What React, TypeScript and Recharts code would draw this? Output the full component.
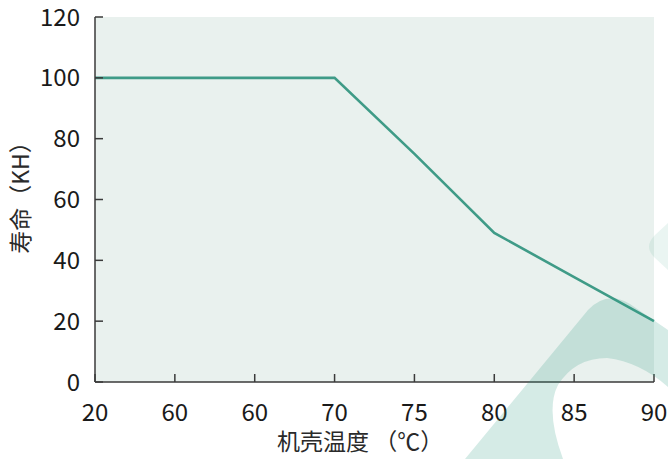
import React from 'react';
import { LineChart, Line, XAxis, YAxis, CartesianGrid, Label } from 'recharts';

const temperatures: string[] = ['20', '60', '60', '70', '75', '80', '85', '90'];
const lifeKH: number[] = [100, 100, 100, 100, 75, 49, 34.5, 20];
const yTicks: number[] = [0, 20, 40, 60, 80, 100, 120];
const xTitle = '机壳温度 （℃）';
const yTitle = '寿命（KH）';

const data = temperatures.map((t, i) => ({ temp: t, life: lifeKH[i] }));

const FONT = '"Noto Sans CJK SC", "Noto Sans", sans-serif';

export default function App() {
  return (
    <div style={{ position: 'absolute', left: 0, top: 0, width: 668, height: 459, background: '#fff', fontFamily: FONT }}>
      <LineChart width={668} height={459} data={data} margin={{ top: 17, right: 14, bottom: 0, left: 0 }}>
        <CartesianGrid fill="#e9f1ee" stroke="none" horizontal={false} vertical={false} />
        <XAxis
          dataKey="temp"
          allowDuplicatedCategory={true}
          height={77}
          tickSize={-8}
          tickMargin={30}
          axisLine={{ stroke: '#3a3a3a', strokeWidth: 1.5 }}
          tickLine={{ stroke: '#3a3a3a', strokeWidth: 1.5 }}
          tick={{ fill: '#1a1a1a', fontSize: 24, fontFamily: FONT }}
          interval={0}
        >
          <Label
            content={() => (
              <text x={277} y={450} textAnchor="start" fill="#2a2a2a" fontSize={23} fontFamily={FONT}>
                {xTitle}
              </text>
            )}
          />
        </XAxis>
        <YAxis
          width={95}
          domain={[0, 120]}
          ticks={yTicks}
          interval={0}
          tickSize={-8}
          tickMargin={23}
          axisLine={{ stroke: '#3a3a3a', strokeWidth: 1.5 }}
          tickLine={{ stroke: '#3a3a3a', strokeWidth: 1.5 }}
          tick={{ fill: '#1a1a1a', fontSize: 24, fontFamily: FONT }}
        >
          <Label
            content={() => (
              <text
                x={19}
                y={192}
                transform="rotate(-90 19 192)"
                textAnchor="middle"
                dominantBaseline="central"
                fill="#2a2a2a"
                fontSize={23}
                fontFamily={FONT}
              >
                {yTitle}
              </text>
            )}
          />
        </YAxis>
        <Line
          type="linear"
          dataKey="life"
          stroke="#3f9b87"
          strokeWidth={2.6}
          dot={false}
          activeDot={false}
          isAnimationActive={false}
        />
      </LineChart>
      <svg
        width={668}
        height={459}
        style={{ position: 'absolute', left: 0, top: 0, pointerEvents: 'none' }}
      >
        <path
          d="M465,459 L588,310 Q607,290 630,304 L668,330 L668,387 Q640,362 607,358 Q575,358 558,385 Q545,410 563,459 Z"
          fill="#2f9a84"
          fillOpacity={0.2}
        />
        <path d="M668,223 L655,235 Q643,247 655,258 L668,270 Z" fill="#2f9a84" fillOpacity={0.1} />
      </svg>
    </div>
  );
}
